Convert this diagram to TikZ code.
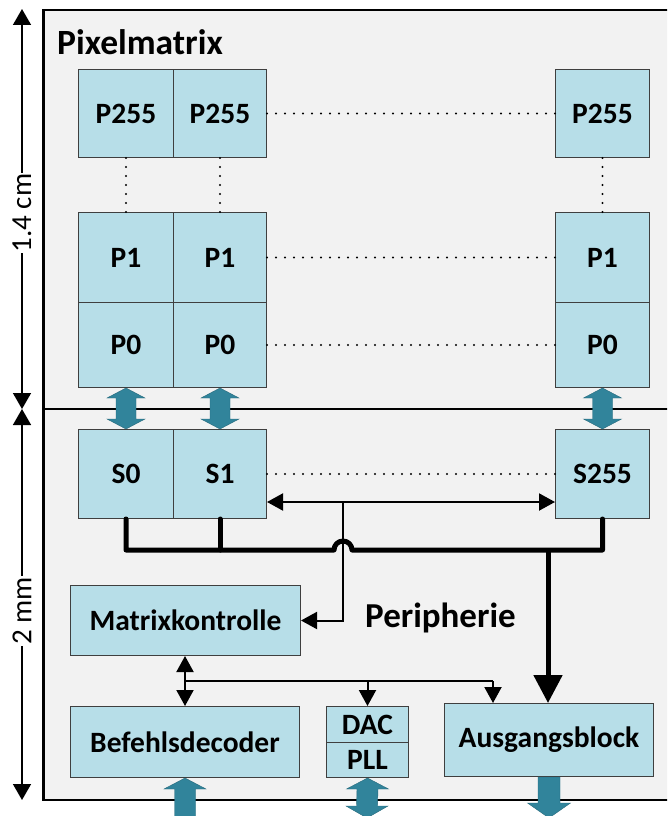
\documentclass[tikz,border=0pt]{standalone}
\usepackage{fontspec}
\setmainfont{Carlito}
\usetikzlibrary{arrows.meta,calc}

\definecolor{cellblue}{HTML}{B7DEE8}
\definecolor{cellline}{HTML}{3F3F3F}
\definecolor{busteal}{HTML}{31849B}
\definecolor{chipgray}{HTML}{F2F2F2}

\tikzset{
  blk/.style={draw=cellline, line width=1pt, fill=cellblue, anchor=north west,
    inner sep=0pt, font=\fontsize{29.5}{30}\selectfont\bfseries},
  dotline/.style={line width=2.2pt, line cap=round, dash pattern=on 0pt off 9pt},
  thin/.style={line width=2pt},
  thintip/.style={-{Triangle[length=16pt,width=17pt]}},
  thinboth/.style={{Triangle[length=16pt,width=17pt]}-{Triangle[length=16pt,width=17pt]}},
  thickbus/.style={line width=5pt, line cap=round, line join=round},
  fatarrow/.style={fill=busteal, draw=busteal!80!black, line width=0.4pt},
  dimline/.style={line width=1.5pt, {Triangle[length=16pt,width=18pt]}-{Triangle[length=16pt,width=18pt]}},
  dimlabel/.style={fill=white, inner sep=1pt, rotate=90, font=\fontsize{29}{30}\selectfont},
  title/.style={anchor=base west, inner sep=0pt, font=\fontsize{35.5}{36}\selectfont\bfseries}
}

% fat teal double arrow between two tips
\newcommand{\fatboth}[2]{%
  \fill[fatarrow] (#1) -- ($(#1)+(19,10)$) -- ($(#1)+(10,10)$) -- ($(#2)+(10,-10)$)
    -- ($(#2)+(19,-10)$) -- (#2) -- ($(#2)+(-19,-10)$) -- ($(#2)+(-10,-10)$)
    -- ($(#1)+(-10,10)$) -- ($(#1)+(-19,10)$) -- cycle;}

\begin{document}
\begin{tikzpicture}[x=1pt,y=-1pt]
\useasboundingbox (0,0) rectangle (667,816);
\clip (0,0) rectangle (667,816);

% chip outline with the two regions
\fill[white] (0,0) rectangle (667,816);
\draw[line width=2.5pt, fill=chipgray] (43.5,10) rectangle (700,800);
\draw[line width=2.5pt] (43.5,409) -- (700,409);

% dimension arrows
\coordinate (dtop) at (22,9);
\coordinate (dmid) at (22,409);
\coordinate (dbot) at (22,800);
\draw[dimline] (dtop) -- (dmid);
\draw[dimline] (dmid) -- (dbot);
\node[dimlabel] (dimA) at (22,213) {1.4 cm};
\node[dimlabel] (dimB) at (22,611) {2 mm};

% region titles
\node[title] (tpix) at (57,55) {Pixelmatrix};
\node[title, font=\fontsize{35}{36}\selectfont\bfseries] (tper) at (365,627) {Peripherie};

% pixel matrix cells
\node[blk, minimum width=95pt, minimum height=88pt] (pa255) at (78,69) {P255};
\node[blk, minimum width=93pt, minimum height=88pt] (pb255) at (173,69) {P255};
\node[blk, minimum width=94pt, minimum height=88pt] (pc255) at (555,69) {P255};
\node[blk, minimum width=95pt, minimum height=90pt] (pa1) at (78,212) {P1};
\node[blk, minimum width=93pt, minimum height=90pt] (pb1) at (173,212) {P1};
\node[blk, minimum width=94pt, minimum height=90pt] (pc1) at (555,212) {P1};
\node[blk, minimum width=95pt, minimum height=85pt] (pa0) at (78,302) {P0};
\node[blk, minimum width=93pt, minimum height=85pt] (pb0) at (173,302) {P0};
\node[blk, minimum width=94pt, minimum height=85pt] (pc0) at (555,302) {P0};

% column stores
\node[blk, minimum width=95pt, minimum height=89pt] (s0) at (78,429) {S0};
\node[blk, minimum width=93pt, minimum height=89pt] (s1) at (173,429) {S1};
\node[blk, minimum width=94pt, minimum height=89pt] (s255) at (555,429) {S255};

% periphery blocks
\node[blk, minimum width=230pt, minimum height=70pt] (mk) at (70,585) {Matrixkontrolle};
\node[blk, minimum width=229pt, minimum height=71pt] (bd) at (70,706) {Befehlsdecoder};
\node[blk, minimum width=82pt, minimum height=36pt] (dac) at (326,706) {DAC};
\node[blk, minimum width=82pt, minimum height=35pt] (pll) at (326,742) {PLL};
\node[blk, minimum width=209pt, minimum height=73pt] (aus) at (444,703) {Ausgangsblock};

% dotted continuation lines
\draw[dotline] (pb255.east) -- (pc255.west);
\draw[dotline] (pb1.east) -- (pc1.west);
\draw[dotline] (pb0.east) -- (pc0.west);
\draw[dotline] (s1.east) -- (s255.west);
\draw[dotline] (pa255.south) -- (pa1.north);
\draw[dotline] (pb255.south) -- (pb1.north);
\draw[dotline] (pc255.south) -- (pc1.north);

% pixel to store transfers
\fatboth{pa0.south}{s0.north}
\fatboth{pb0.south}{s1.north}
\fatboth{pc0.south}{s255.north}

% output bus of the stores
\coordinate (hop) at (343,550);
\draw[thickbus] (s0.south) -- (s0.south |- hop) -- ($(hop)+(-9,0)$) arc (180:360:9)
  -- (s255.south |- hop) -- (s255.south);
\draw[thickbus] (s1.south) -- (s1.south |- hop);
\coordinate (busout) at (548,550);
\draw[line width=5pt, -{Triangle[length=28pt,width=28pt]}] (busout) -- (busout |- aus.north);

% control lines from the matrix controller
\coordinate (ctl) at (343,502);
\draw[thin, thinboth] (s1.east |- ctl) -- (s255.west |- ctl);
\draw[thin, thintip] (ctl) -- (ctl |- hop) -- (ctl |- mk.east) -- (mk.east);

% command bus
\coordinate (cmd) at (185,681);
\draw[thin, thinboth] (cmd |- mk.south) -- (cmd |- bd.north);
\coordinate (cmdaus) at (493,681);
\draw[thin] (cmd) -- (cmdaus);
\draw[thin, thintip] (dac.north |- cmd) -- (dac.north);
\draw[thin, thintip] (cmdaus) -- (cmdaus |- aus.north);

% external interfaces
\coordinate (bdx) at (185,830);
\fill[fatarrow] (bd.south -| bdx) -- ($(bd.south -| bdx)+(21,11)$) -- ($(bd.south -| bdx)+(10.5,11)$)
  -- ($(bdx)+(10.5,0)$) -- ($(bdx)+(-10.5,0)$) -- ($(bd.south -| bdx)+(-10.5,11)$)
  -- ($(bd.south -| bdx)+(-21,11)$) -- cycle;
\coordinate (pllx) at (367,818);
\fill[fatarrow] (pll.south) -- ($(pll.south)+(21,11)$) -- ($(pll.south)+(10.5,11)$)
  -- ($(pllx)+(10.5,-12)$) -- ($(pllx)+(21,-12)$) -- (pllx) -- ($(pllx)+(-21,-12)$)
  -- ($(pllx)+(-10.5,-12)$) -- ($(pll.south)+(-10.5,11)$) -- ($(pll.south)+(-21,11)$) -- cycle;
\coordinate (ausx) at (549,818);
\fill[fatarrow] ($(aus.south -| ausx)+(-11,0)$) -- ($(aus.south -| ausx)+(11,0)$)
  -- ($(ausx)+(11,-15)$) -- ($(ausx)+(21.5,-15)$) -- (ausx) -- ($(ausx)+(-21.5,-15)$)
  -- ($(ausx)+(-11,-15)$) -- cycle;
\end{tikzpicture}
\end{document}
